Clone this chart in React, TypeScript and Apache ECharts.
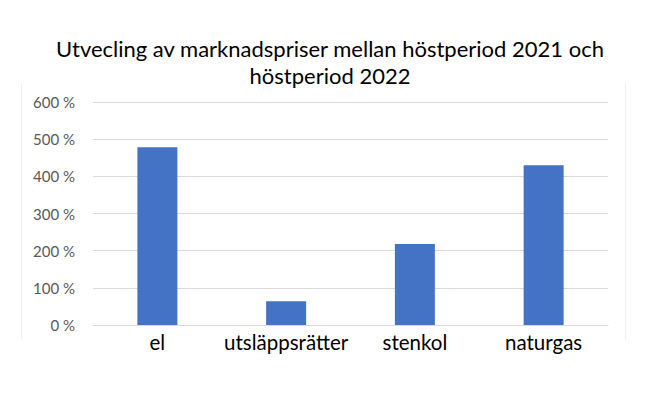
import React, { useEffect, useRef } from "react";
import * as echarts from "echarts";

const categories = ["el", "utsläppsrätter", "stenkol", "naturgas"];
const values = [478, 64, 218, 430];
const yTicks = [0, 100, 200, 300, 400, 500, 600];
const titleText = "Utvecling av marknadspriser mellan höstperiod 2021 och\nhöstperiod 2022";

export default function App() {
  const ref = useRef<HTMLDivElement>(null);
  useEffect(() => {
    if (!ref.current) return;
    const chart = echarts.init(ref.current, null, { renderer: "svg" });
    chart.setOption({
      animation: false,
      backgroundColor: "#ffffff",
      title: {
        text: titleText,
        left: "center",
        top: 30,
        textStyle: {
          fontFamily: "Lato",
          fontSize: 22,
          fontWeight: "normal",
          color: "#000000",
          lineHeight: 27,
        },
      },
      graphic: [
        { type: "line", shape: { x1: 21.5, y1: 83, x2: 21.5, y2: 340 }, style: { stroke: "#f0f0f0", lineWidth: 1 } },
        { type: "line", shape: { x1: 625.5, y1: 83, x2: 625.5, y2: 340 }, style: { stroke: "#f0f0f0", lineWidth: 1 } },
      ],
      grid: { left: 93, right: 52, top: 102, bottom: 72 },
      xAxis: {
        type: "category",
        data: categories,
        axisLine: { show: true, lineStyle: { color: "#d9d9d9" } },
        axisTick: { show: false },
        axisLabel: { color: "#000000", fontSize: 20.5, fontFamily: "Lato", margin: 6, interval: 0 },
      },
      yAxis: {
        type: "value",
        min: yTicks[0],
        max: yTicks[yTicks.length - 1],
        interval: 100,
        axisLine: { show: false },
        axisTick: { show: false },
        splitLine: { lineStyle: { color: "#d9d9d9", width: 1 } },
        axisLabel: {
          color: "#595959",
          fontSize: 15,
          fontFamily: "Lato",
          margin: 18,
          formatter: (v: number) => `${v} %`,
        },
      },
      series: [
        {
          type: "bar",
          data: values,
          barWidth: 40,
          itemStyle: { color: "#4472c4" },
        },
      ],
    });
    return () => chart.dispose();
  }, []);
  return (
    <div
      ref={ref}
      style={{ position: "absolute", left: 0, top: 0, width: 660, height: 397 }}
    />
  );
}
